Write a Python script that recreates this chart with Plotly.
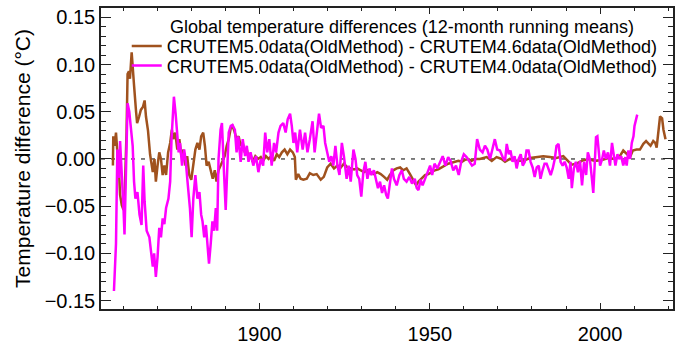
import plotly.graph_objects as go

# CRUTEM5.0 (old method) minus CRUTEM4.6 (old method), 12-month running means
years_46 = [
    1857.0, 1857.1, 1857.5, 1857.9, 1858.3, 1858.7, 1859.1, 1859.6, 1860.1, 1860.5,
    1861.0, 1861.3, 1861.7, 1862.0, 1862.5, 1862.9, 1863.2, 1863.8, 1864.1, 1864.7,
    1865.2, 1865.8, 1866.3, 1866.7, 1867.3, 1867.9, 1868.7, 1869.2, 1869.6, 1870.1,
    1870.6, 1871.1, 1871.6, 1872.1, 1872.6, 1873.2, 1873.8, 1874.3, 1874.7, 1875.3,
    1875.9, 1876.5, 1877.1, 1877.7, 1878.3, 1878.8, 1879.4, 1880.0, 1880.6, 1881.2,
    1881.8, 1882.4, 1882.9, 1883.5, 1884.0, 1884.5, 1885.1, 1885.7, 1886.3, 1886.9,
    1887.4, 1888.0, 1888.6, 1889.2, 1889.8, 1890.4, 1891.0, 1891.6, 1892.1, 1892.7,
    1893.3, 1893.9, 1894.5, 1895.1, 1895.7, 1896.3, 1896.8, 1897.4, 1898.0, 1898.8,
    1899.6, 1900.4, 1901.1, 1901.9, 1902.7, 1903.5, 1904.3, 1905.1, 1905.8, 1906.6,
    1907.4, 1908.2, 1909.0, 1909.8, 1910.4, 1910.7, 1911.4, 1912.1, 1912.9, 1913.9,
    1914.8, 1915.8, 1916.8, 1918.0, 1918.9, 1919.9, 1920.9, 1921.9, 1922.9, 1923.9,
    1924.8, 1925.8, 1926.8, 1927.8, 1928.7, 1929.7, 1930.7, 1931.7, 1932.7, 1933.6,
    1934.6, 1935.6, 1936.6, 1937.5, 1938.3, 1939.3, 1940.3, 1941.3, 1942.2, 1943.2,
    1944.2, 1945.2, 1946.0, 1946.7, 1947.6, 1948.6, 1949.6, 1950.6, 1951.5, 1952.5,
    1953.5, 1954.5, 1955.4, 1956.4, 1957.4, 1958.4, 1959.4, 1960.3, 1961.3, 1962.3,
    1963.3, 1964.7, 1966.7, 1968.2, 1969.6, 1971.1, 1972.1, 1973.5, 1975.5, 1977.5,
    1979.4, 1981.4, 1983.3, 1985.3, 1987.2, 1989.2, 1990.7, 1991.6, 1993.1, 1994.6,
    1996.5, 1998.5, 2000.5, 2002.4, 2004.4, 2005.8, 2006.8, 2007.8, 2008.8, 2009.6,
    2010.7, 2011.7, 2012.7, 2013.5, 2014.2, 2014.8, 2015.6, 2016.2, 2016.6, 2017.2,
    2017.6, 2018.2, 2018.6, 2019.2,
]
diff_46 = [
    -0.007, 0.024, 0.014, 0.028, 0.007, -0.007, -0.038, -0.049, -0.054, -0.031,
    0.028, 0.090, 0.093, 0.085, 0.113, 0.085, 0.078, 0.050, 0.038, 0.045,
    0.052, 0.055, 0.062, 0.045, 0.030, 0.005, -0.014, 0.000, -0.024, -0.007,
    0.007, 0.000, -0.017, -0.007, -0.017, 0.007, 0.017, 0.031, 0.021, 0.028,
    0.010, 0.021, 0.003, 0.010, -0.007, 0.003, -0.017, -0.022, -0.007, 0.010,
    0.017, 0.010, 0.024, 0.028, 0.014, -0.007, -0.003, -0.014, -0.021, -0.012,
    -0.024, -0.012, -0.007, -0.003, 0.003, 0.014, 0.021, 0.033, 0.035, 0.029,
    0.021, 0.024, 0.014, 0.017, 0.007, 0.010, 0.002, 0.005, -0.003, 0.003,
    0.000, 0.002, -0.002, 0.003, 0.000, 0.003, -0.002, 0.005, 0.002, 0.007,
    0.010, 0.005, 0.010, 0.007, 0.002, -0.022, -0.016, -0.021, -0.022, -0.021,
    -0.015, -0.017, -0.016, -0.022, -0.019, -0.009, -0.005, -0.010, -0.007, -0.009,
    -0.005, -0.009, -0.010, -0.011, -0.010, -0.012, -0.014, -0.012, -0.014, -0.016,
    -0.014, -0.016, -0.019, -0.022, -0.017, -0.012, -0.010, -0.009, -0.012, -0.010,
    -0.016, -0.022, -0.028, -0.024, -0.021, -0.017, -0.016, -0.014, -0.012, -0.011,
    -0.009, -0.007, -0.005, -0.004, -0.003, -0.002, -0.003, -0.001, 0.000, -0.002,
    0.000, 0.000, 0.002, -0.002, 0.002, 0.000, -0.003, 0.000, -0.002, -0.002,
    0.001, 0.002, 0.003, 0.002, 0.001, 0.003, -0.002, -0.006, -0.005, -0.002,
    0.000, -0.002, -0.001, 0.001, 0.000, 0.003, 0.009, 0.005, 0.002, 0.009,
    0.010, 0.010, 0.016, 0.019, 0.016, 0.014, 0.019, 0.017, 0.012, 0.031,
    0.045, 0.043, 0.031, 0.021,
]

# CRUTEM5.0 (old method) minus CRUTEM4.0 (old method), 12-month running means
years_40 = [
    1857.3, 1857.6, 1857.9, 1858.3, 1858.8, 1859.1, 1859.5, 1860.1, 1860.4, 1860.8,
    1861.3, 1861.8, 1862.3, 1862.8, 1863.2, 1863.6, 1864.2, 1864.8, 1865.4, 1865.9,
    1866.3, 1866.9, 1867.7, 1868.1, 1868.7, 1869.1, 1869.6, 1870.1, 1870.6, 1871.1,
    1871.6, 1872.1, 1872.6, 1873.3, 1873.8, 1874.2, 1874.9, 1875.4, 1875.9, 1876.3,
    1876.7, 1877.3, 1877.9, 1878.4, 1878.9, 1879.6, 1880.1, 1880.6, 1881.2, 1881.8,
    1882.4, 1882.9, 1883.3, 1883.8, 1884.3, 1884.8, 1885.2, 1885.7, 1886.2, 1886.7,
    1887.2, 1887.6, 1888.0, 1888.6, 1889.0, 1889.6, 1890.1, 1890.6, 1891.0, 1891.6,
    1892.1, 1892.8, 1893.3, 1893.8, 1894.5, 1895.1, 1895.8, 1896.3, 1896.8, 1897.4,
    1898.2, 1899.0, 1899.7, 1900.4, 1901.1, 1901.7, 1902.3, 1902.9, 1903.6, 1904.3,
    1904.9, 1905.6, 1906.2, 1907.0, 1907.7, 1908.3, 1909.0, 1909.5, 1910.0, 1910.5,
    1911.1, 1911.9, 1912.7, 1913.4, 1914.1, 1914.8, 1915.6, 1916.2, 1916.8, 1917.5,
    1918.1, 1918.8, 1919.3, 1919.9, 1920.5, 1921.1, 1921.7, 1922.3, 1922.9, 1923.5,
    1924.2, 1924.8, 1925.6, 1926.2, 1926.8, 1927.6, 1928.2, 1928.7, 1929.3, 1929.9,
    1930.5, 1931.1, 1931.7, 1932.3, 1932.8, 1933.6, 1934.2, 1934.8, 1935.4, 1936.0,
    1936.6, 1937.2, 1937.7, 1938.3, 1938.9, 1939.5, 1940.3, 1941.1, 1941.8, 1942.4,
    1943.2, 1944.0, 1944.8, 1945.6, 1946.2, 1946.7, 1947.3, 1947.9, 1948.7, 1949.5,
    1950.1, 1950.7, 1951.4, 1952.2, 1953.0, 1953.8, 1954.6, 1955.4, 1956.1, 1956.9,
    1957.7, 1958.5, 1959.3, 1960.0, 1960.8, 1961.6, 1962.4, 1963.2, 1963.9, 1964.7,
    1965.5, 1966.2, 1966.9, 1967.7, 1968.5, 1969.1, 1969.8, 1970.6, 1971.4, 1972.1,
    1972.6, 1973.2, 1973.7, 1974.3, 1974.9, 1975.5, 1976.1, 1976.7, 1977.3, 1977.9,
    1978.4, 1979.0, 1979.6, 1980.2, 1980.8, 1981.4, 1982.0, 1982.5, 1983.1, 1983.7,
    1984.3, 1984.9, 1985.5, 1986.1, 1986.7, 1987.2, 1987.8, 1988.4, 1989.0, 1989.6,
    1990.2, 1990.8, 1991.3, 1991.7, 1992.3, 1992.9, 1993.5, 1994.1, 1994.7, 1995.3,
    1995.9, 1996.4, 1997.0, 1997.6, 1998.0, 1998.4, 1998.8, 1999.2, 1999.6, 2000.0,
    2000.6, 2001.1, 2001.7, 2002.3, 2002.9, 2003.5, 2003.9, 2004.5, 2005.1, 2005.6,
    2006.2, 2006.8, 2007.4, 2007.8, 2008.3, 2008.8, 2009.3, 2009.8, 2010.1, 2010.5,
    2010.9,
]
diff_40 = [
    -0.140, -0.114, -0.090, 0.010, -0.020, 0.019, -0.005, -0.052, -0.080, -0.025,
    0.059, 0.050, 0.028, 0.014, -0.024, -0.042, -0.035, -0.059, -0.070, -0.007,
    -0.045, -0.076, -0.083, -0.097, -0.114, -0.100, -0.125, -0.104, -0.073, -0.083,
    -0.063, -0.069, -0.052, -0.042, -0.024, 0.021, 0.066, 0.048, 0.024, 0.007,
    0.017, -0.007, 0.010, -0.003, -0.024, -0.052, -0.083, -0.042, -0.017, -0.042,
    -0.035, -0.059, -0.066, -0.083, -0.070, -0.100, -0.111, -0.090, -0.066, -0.076,
    -0.052, -0.076, 0.000, 0.031, 0.038, -0.014, -0.054, -0.007, 0.028, 0.035,
    0.036, 0.031, 0.007, 0.024, -0.003, 0.021, 0.003, 0.014, -0.003, 0.007,
    -0.007, 0.003, -0.014, 0.000, -0.007, 0.028, 0.007, 0.021, -0.007, 0.017,
    0.007, 0.028, 0.035, 0.038, 0.028, 0.042, 0.048, 0.035, 0.017, 0.028,
    0.007, 0.031, 0.010, 0.028, 0.007, 0.021, 0.040, 0.007, 0.024, 0.048,
    0.033, 0.035, 0.017, 0.007, -0.003, 0.003, -0.007, 0.014, -0.007, -0.017,
    0.017, 0.003, -0.021, -0.007, -0.024, 0.010, 0.000, -0.017, -0.021, -0.040,
    -0.014, -0.003, -0.021, -0.010, -0.017, -0.012, -0.021, -0.031, -0.024, -0.036,
    -0.028, -0.038, -0.042, -0.024, -0.010, -0.021, -0.028, -0.017, -0.012, -0.021,
    -0.024, -0.019, -0.026, -0.021, -0.031, -0.033, -0.022, -0.028, -0.021, -0.012,
    -0.007, -0.017, -0.005, -0.010, -0.003, 0.003, -0.007, 0.002, -0.002, -0.012,
    -0.007, -0.017, -0.002, 0.005, 0.002, -0.003, -0.007, -0.005, 0.021, 0.010,
    0.007, 0.014, 0.010, 0.000, 0.014, 0.021, 0.010, 0.009, 0.002, -0.002,
    0.016, 0.005, 0.009, -0.003, 0.003, -0.010, 0.000, 0.005, -0.007, -0.003,
    0.009, 0.009, -0.003, -0.009, -0.019, -0.009, -0.007, -0.021, -0.012, -0.005,
    -0.005, -0.012, -0.017, -0.010, 0.000, 0.014, 0.016, -0.003, -0.007, -0.003,
    -0.009, -0.021, -0.003, -0.031, -0.010, -0.003, -0.014, -0.002, -0.028, -0.003,
    -0.017, 0.007, 0.000, -0.021, -0.036, -0.007, 0.023, 0.024, 0.003, -0.007,
    0.000, 0.009, 0.000, 0.007, -0.007, 0.017, 0.007, -0.007, 0.005, 0.000,
    0.003, -0.007, 0.002, -0.007, 0.009, 0.000, 0.017, 0.024, 0.035, 0.043,
    0.047,
]

series_names = [
    "CRUTEM5.0data(OldMethod) - CRUTEM4.6data(OldMethod)",
    "CRUTEM5.0data(OldMethod) - CRUTEM4.0data(OldMethod)",
]
legend_heading = "Global temperature differences (12-month running means)"
x_ticks = [1900, 1950, 2000]
y_ticks = [-0.15, -0.10, -0.05, 0.00, 0.05, 0.10, 0.15]

FONT = "Liberation Sans, Arial, sans-serif"
BROWN = "#A0521E"
MAGENTA = "#FF00FF"

fig = go.Figure()
fig.add_trace(go.Scatter(
    x=years_46, y=diff_46, mode="lines", name=series_names[0],
    line=dict(color=BROWN, width=2.5), legend="legend",
))
fig.add_trace(go.Scatter(
    x=years_40, y=diff_40, mode="lines", name=series_names[1],
    line=dict(color=MAGENTA, width=2.5), legend="legend2",
))

# dotted zero line across the plot
fig.add_shape(type="line", xref="paper", x0=0, x1=1, yref="y", y0=0, y1=0,
              line=dict(color="black", width=1, dash="4px,6px"), layer="below")

fig.add_annotation(text=legend_heading, xref="paper", yref="paper",
                   x=0.117, y=0.938, xanchor="left", yanchor="middle",
                   showarrow=False, font=dict(family=FONT, size=18, color="black"))

axis_common = dict(
    showline=True, linecolor="#222", linewidth=1.5, mirror="allticks",
    ticks="inside", tickcolor="#222", showgrid=False, zeroline=False,
    tickfont=dict(family=FONT, size=20, color="black"),
)

fig.update_layout(
    width=685, height=351,
    margin=dict(l=101, r=12, t=6, b=38),
    paper_bgcolor="white", plot_bgcolor="white",
    font=dict(family=FONT, color="black"),
    xaxis=dict(
        range=[1853.5, 2021.4], tickvals=x_ticks, ticklen=6, tickwidth=1,
        minor=dict(ticks="inside", dtick=10, tick0=1850, ticklen=3, tickcolor="#222"),
        ticklabelstandoff=6,
        **axis_common,
    ),
    yaxis=dict(
        range=[-0.159, 0.160], tickvals=y_ticks, tickformat=".2f", ticklen=10, tickwidth=1,
        minor=dict(ticks="inside", dtick=0.01, tick0=0, ticklen=5, tickcolor="#222"),
        title=dict(text="Temperature difference (\u00b0C)", font=dict(family=FONT, size=21),
                   standoff=8),
        **axis_common,
    ),
    legend=dict(x=0.045, y=0.873, xanchor="left", yanchor="middle",
                bgcolor="rgba(0,0,0,0)", font=dict(family=FONT, size=18)),
    legend2=dict(x=0.045, y=0.808, xanchor="left", yanchor="middle",
                 bgcolor="rgba(0,0,0,0)", font=dict(family=FONT, size=18)),
    showlegend=True,
)

fig.write_html("out.html")
